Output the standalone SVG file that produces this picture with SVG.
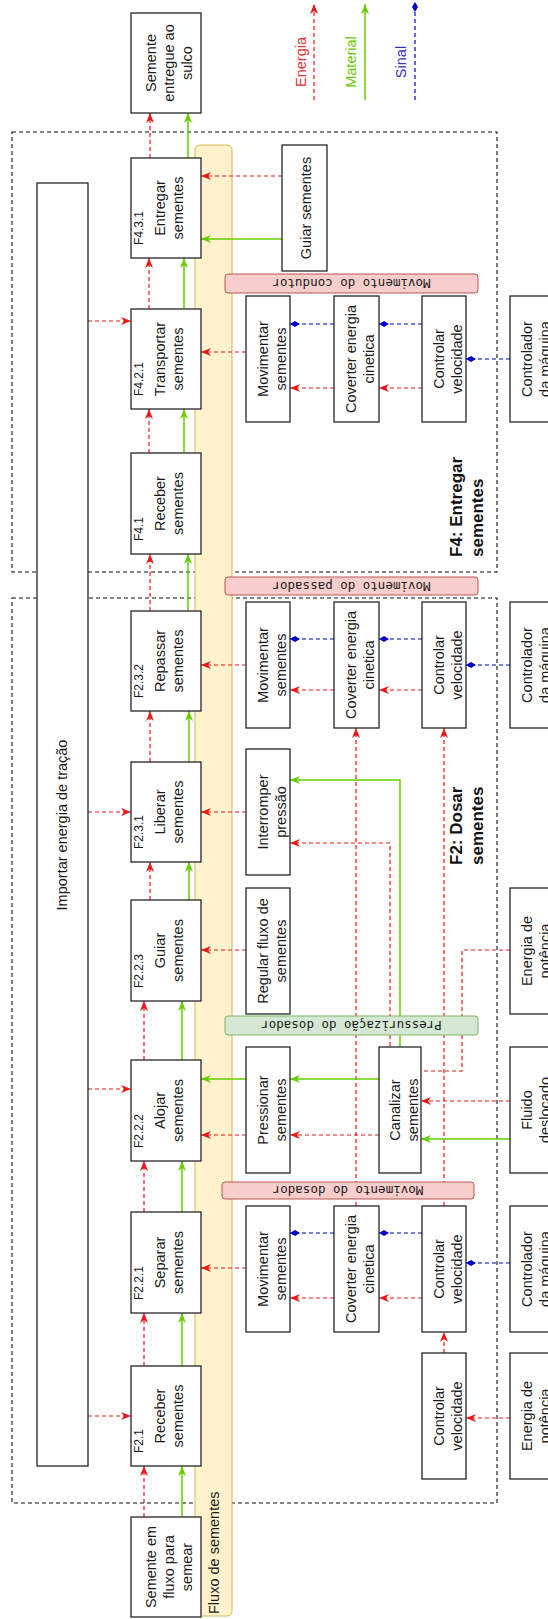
<svg xmlns="http://www.w3.org/2000/svg" width="548" height="1619" viewBox="0 0 548 1619">
<defs>
<style>
.box{fill:#fff;stroke:#262626;stroke-width:1.3}
.cont{fill:none;stroke:#111;stroke-width:1.1;stroke-dasharray:4 3}
.t{font-family:"Liberation Sans",Arial,sans-serif;font-size:14.5px;fill:#1a1a1a;text-anchor:middle}
.id{font-family:"Liberation Sans",Arial,sans-serif;font-size:12px;fill:#1a1a1a}
.title{font-family:"Liberation Sans",Arial,sans-serif;font-size:17px;font-weight:bold;fill:#111}
.lbl{font-family:"DejaVu Sans Mono",monospace;font-size:12.5px;fill:#1a1a1a;text-anchor:middle}
.e{fill:none;stroke:#e81818;stroke-width:1.2;stroke-dasharray:4 3;marker-end:url(#ar)}
.m{fill:none;stroke:#66cc00;stroke-width:1.5;marker-end:url(#ag)}
.s{fill:none;stroke:#0000cc;stroke-width:1.2;stroke-dasharray:4 3;marker-end:url(#ad)}
.pink{fill:#f8cecc;stroke:#b85450;stroke-width:1}
.grn{fill:#d5e8d4;stroke:#82b366;stroke-width:1}
</style>
<marker id="ar" viewBox="0 0 10 8" refX="10" refY="4" markerWidth="10" markerHeight="8" orient="auto" markerUnits="userSpaceOnUse"><path d="M0,0 L10,4 L0,8 L3,4 z" fill="#e81818"/></marker>
<marker id="ag" viewBox="0 0 10 8" refX="10" refY="4" markerWidth="10" markerHeight="8" orient="auto" markerUnits="userSpaceOnUse"><path d="M0,0 L10,4 L0,8 L3,4 z" fill="#66cc00"/></marker>
<marker id="ad" viewBox="0 0 10 6" refX="10" refY="3" markerWidth="10" markerHeight="6" orient="auto" markerUnits="userSpaceOnUse"><path d="M0,3 L5,0 L10,3 L5,6 z" fill="#0000cc"/></marker>
</defs>

<g id="containers">
<rect class="cont" x="12" y="598" width="485" height="905"/>
<rect class="cont" x="12" y="132" width="485" height="440"/>
</g>

<g id="fluxo-sementes">
<rect x="195" y="145" width="37" height="1471" rx="5" fill="#fff2cc" stroke="#d6b656" stroke-width="1"/>
<text class="t" style="text-anchor:start" transform="translate(219,1614) rotate(-90)">Fluxo de sementes</text>
</g>

<g id="connectors">
<!-- main column -->
<path class="e" d="M144,1517 V1466"/><path class="m" d="M182,1517 V1466"/>
<path class="e" d="M144,1366 V1313"/><path class="m" d="M182,1366 V1313"/>
<path class="e" d="M144,1212 V1161"/><path class="m" d="M182,1212 V1161"/>
<path class="e" d="M144,1060 V1001"/><path class="m" d="M182,1060 V1001"/>
<path class="e" d="M150,900 V862"/><path class="m" d="M189,900 V862"/>
<path class="e" d="M150,762 V711"/><path class="m" d="M189,762 V711"/>
<path class="e" d="M150,611 V554"/><path class="m" d="M188,611 V554"/>
<path class="e" d="M149,453 V409"/><path class="m" d="M184,453 V409"/>
<path class="e" d="M149,309 V258"/><path class="m" d="M184,309 V258"/>
<path class="e" d="M150,158 V113"/><path class="m" d="M188,158 V113"/>
<!-- bar to main -->
<path class="e" d="M88,1416 H131"/>
<path class="e" d="M88,1089 H131"/>
<path class="e" d="M88,812 H131"/>
<path class="e" d="M88,321 H131"/>
<!-- bottom group -->
<path class="e" d="M510,1418 H466"/>
<path class="e" d="M444,1353 V1332"/>
<path class="s" d="M510,1263 H466"/>
<path class="s" d="M422,1233 H379"/><path class="s" d="M334,1233 H290"/>
<path class="e" d="M422,1298 H379"/><path class="e" d="M334,1298 H290"/>
<path class="e" d="M246,1268 H201"/>
<path class="e" d="M356,1206 V728"/>
<path class="e" d="M444,1206 V728"/>
<!-- middle group -->
<path class="e" d="M510,1101 H421"/><path class="m" d="M510,1139 H421"/>
<path class="m" d="M379,1079 H290"/><path class="e" d="M379,1135 H290"/>
<path class="m" d="M246,1079 H201"/><path class="e" d="M246,1135 H201"/>
<path class="e" d="M510,950 H462 V1071 H390 V843 H290"/>
<path class="m" d="M400,1047 V780 H290"/>
<path class="e" d="M246,950 H201"/>
<path class="e" d="M246,812 H201"/>
<!-- repassar group -->
<path class="s" d="M510,665 H466"/>
<path class="s" d="M422,639 H379"/><path class="s" d="M334,639 H290"/>
<path class="e" d="M422,690 H379"/><path class="e" d="M334,690 H290"/>
<path class="e" d="M246,665 H201"/>
<!-- F4 group -->
<path class="s" d="M510,359 H466"/>
<path class="s" d="M422,324 H379"/><path class="s" d="M334,324 H290"/>
<path class="e" d="M422,388 H379"/><path class="e" d="M334,388 H290"/>
<path class="e" d="M246,352 H201"/>
<path class="e" d="M282,176 H201"/><path class="m" d="M282,239 H201"/>
</g>

<g id="importar-energia">
<rect class="box" x="37" y="183" width="51" height="1283"/>
<text class="t" transform="translate(67,825) rotate(-90)">Importar energia de tração</text>
</g>

<g id="semente-sulco">
<rect class="box" x="131" y="13" width="70" height="100"/>
<text class="t" transform="translate(156,63) rotate(-90)"><tspan x="0" y="0">Semente</tspan><tspan x="0" y="18">entregue ao</tspan><tspan x="0" y="36">sulco</tspan></text>
</g>
<g id="f431">
<rect class="box" x="131" y="158" width="70" height="100"/>
<text class="id" transform="translate(143,245) rotate(-90)">F4.3.1</text>
<text class="t" transform="translate(165,208) rotate(-90)"><tspan x="0" y="0">Entregar</tspan><tspan x="0" y="18">sementes</tspan></text>
</g>
<g id="f421">
<rect class="box" x="131" y="309" width="70" height="100"/>
<text class="id" transform="translate(143,396) rotate(-90)">F4.2.1</text>
<text class="t" transform="translate(165,359) rotate(-90)"><tspan x="0" y="0">Transportar</tspan><tspan x="0" y="18">sementes</tspan></text>
</g>
<g id="f41">
<rect class="box" x="131" y="453" width="70" height="101"/>
<text class="id" transform="translate(143,541) rotate(-90)">F4.1</text>
<text class="t" transform="translate(165,503.5) rotate(-90)"><tspan x="0" y="0">Receber</tspan><tspan x="0" y="18">sementes</tspan></text>
</g>
<g id="f232">
<rect class="box" x="131" y="611" width="70" height="100"/>
<text class="id" transform="translate(143,698) rotate(-90)">F2.3.2</text>
<text class="t" transform="translate(165,661) rotate(-90)"><tspan x="0" y="0">Repassar</tspan><tspan x="0" y="18">sementes</tspan></text>
</g>
<g id="f231">
<rect class="box" x="131" y="762" width="70" height="100"/>
<text class="id" transform="translate(143,849) rotate(-90)">F2.3.1</text>
<text class="t" transform="translate(165,812) rotate(-90)"><tspan x="0" y="0">Liberar</tspan><tspan x="0" y="18">sementes</tspan></text>
</g>
<g id="f223">
<rect class="box" x="131" y="900" width="70" height="101"/>
<text class="id" transform="translate(143,988) rotate(-90)">F2.2.3</text>
<text class="t" transform="translate(165,950.5) rotate(-90)"><tspan x="0" y="0">Guiar</tspan><tspan x="0" y="18">sementes</tspan></text>
</g>
<g id="f222">
<rect class="box" x="131" y="1060" width="70" height="101"/>
<text class="id" transform="translate(143,1148) rotate(-90)">F2.2.2</text>
<text class="t" transform="translate(165,1110.5) rotate(-90)"><tspan x="0" y="0">Alojar</tspan><tspan x="0" y="18">sementes</tspan></text>
</g>
<g id="f221">
<rect class="box" x="131" y="1212" width="70" height="101"/>
<text class="id" transform="translate(143,1300) rotate(-90)">F2.2.1</text>
<text class="t" transform="translate(165,1262.5) rotate(-90)"><tspan x="0" y="0">Separar</tspan><tspan x="0" y="18">sementes</tspan></text>
</g>
<g id="f21">
<rect class="box" x="131" y="1366" width="70" height="100"/>
<text class="id" transform="translate(143,1453) rotate(-90)">F2.1</text>
<text class="t" transform="translate(165,1416) rotate(-90)"><tspan x="0" y="0">Receber</tspan><tspan x="0" y="18">sementes</tspan></text>
</g>
<g id="semente-fluxo">
<rect class="box" x="131" y="1517" width="70" height="100"/>
<text class="t" transform="translate(156,1567) rotate(-90)"><tspan x="0" y="0">Semente em</tspan><tspan x="0" y="18">fluxo para</tspan><tspan x="0" y="36">semear</tspan></text>
</g>

<!-- F4 side boxes -->
<g id="guiar-sementes-f4">
<rect class="box" x="282" y="145" width="45" height="126"/>
<text class="t" transform="translate(311,208) rotate(-90)">Guiar sementes</text>
</g>
<g id="movimentar-f4">
<rect class="box" x="246" y="296" width="44" height="126"/>
<text class="t" transform="translate(267.5,359) rotate(-90)"><tspan x="0" y="0">Movimentar</tspan><tspan x="0" y="18">sementes</tspan></text>
</g>
<g id="coverter-f4">
<rect class="box" x="334" y="296" width="45" height="126"/>
<text class="t" transform="translate(355.5,359) rotate(-90)"><tspan x="0" y="0">Coverter energia</tspan><tspan x="0" y="18">cinetica</tspan></text>
</g>
<g id="controlar-f4">
<rect class="box" x="422" y="296" width="44" height="126"/>
<text class="t" transform="translate(443.5,359) rotate(-90)"><tspan x="0" y="0">Controlar</tspan><tspan x="0" y="18">velocidade</tspan></text>
</g>
<g id="controlador-f4">
<rect class="box" x="510" y="296" width="44" height="126"/>
<text class="t" transform="translate(531.5,359) rotate(-90)"><tspan x="0" y="0">Controlador</tspan><tspan x="0" y="18">da máquina</tspan></text>
</g>

<!-- Repassar side boxes -->
<g id="movimentar-rep">
<rect class="box" x="246" y="602" width="44" height="126"/>
<text class="t" transform="translate(267.5,665) rotate(-90)"><tspan x="0" y="0">Movimentar</tspan><tspan x="0" y="18">sementes</tspan></text>
</g>
<g id="coverter-rep">
<rect class="box" x="334" y="602" width="45" height="126"/>
<text class="t" transform="translate(355.5,665) rotate(-90)"><tspan x="0" y="0">Coverter energia</tspan><tspan x="0" y="18">cinetica</tspan></text>
</g>
<g id="controlar-rep">
<rect class="box" x="422" y="602" width="44" height="126"/>
<text class="t" transform="translate(443.5,665) rotate(-90)"><tspan x="0" y="0">Controlar</tspan><tspan x="0" y="18">velocidade</tspan></text>
</g>
<g id="controlador-rep">
<rect class="box" x="510" y="602" width="44" height="126"/>
<text class="t" transform="translate(531.5,665) rotate(-90)"><tspan x="0" y="0">Controlador</tspan><tspan x="0" y="18">da máquina</tspan></text>
</g>

<!-- middle side boxes -->
<g id="interromper">
<rect class="box" x="246" y="749" width="44" height="126"/>
<text class="t" transform="translate(267.5,812) rotate(-90)"><tspan x="0" y="0">Interromper</tspan><tspan x="0" y="18">pressão</tspan></text>
</g>
<g id="regular">
<rect class="box" x="246" y="888" width="44" height="126"/>
<text class="t" transform="translate(267.5,951) rotate(-90)"><tspan x="0" y="0">Regular fluxo de</tspan><tspan x="0" y="18">sementes</tspan></text>
</g>
<g id="energia-mid">
<rect class="box" x="510" y="888" width="44" height="126"/>
<text class="t" transform="translate(531.5,951) rotate(-90)"><tspan x="0" y="0">Energia de</tspan><tspan x="0" y="18">potência</tspan></text>
</g>
<g id="pressionar">
<rect class="box" x="246" y="1047" width="44" height="126"/>
<text class="t" transform="translate(267.5,1110) rotate(-90)"><tspan x="0" y="0">Pressionar</tspan><tspan x="0" y="18">sementes</tspan></text>
</g>
<g id="canalizar">
<rect class="box" x="379" y="1047" width="42" height="126"/>
<text class="t" transform="translate(399.5,1110) rotate(-90)"><tspan x="0" y="0">Canalizar</tspan><tspan x="0" y="18">sementes</tspan></text>
</g>
<g id="fluido">
<rect class="box" x="510" y="1047" width="44" height="126"/>
<text class="t" transform="translate(531.5,1110) rotate(-90)"><tspan x="0" y="0">Fluido</tspan><tspan x="0" y="18">deslocado</tspan></text>
</g>

<!-- bottom side boxes -->
<g id="movimentar-dos">
<rect class="box" x="246" y="1206" width="44" height="126"/>
<text class="t" transform="translate(267.5,1269) rotate(-90)"><tspan x="0" y="0">Movimentar</tspan><tspan x="0" y="18">sementes</tspan></text>
</g>
<g id="coverter-dos">
<rect class="box" x="334" y="1206" width="45" height="126"/>
<text class="t" transform="translate(355.5,1269) rotate(-90)"><tspan x="0" y="0">Coverter energia</tspan><tspan x="0" y="18">cinetica</tspan></text>
</g>
<g id="controlar-dos">
<rect class="box" x="422" y="1206" width="44" height="126"/>
<text class="t" transform="translate(443.5,1269) rotate(-90)"><tspan x="0" y="0">Controlar</tspan><tspan x="0" y="18">velocidade</tspan></text>
</g>
<g id="controlador-dos">
<rect class="box" x="510" y="1206" width="44" height="126"/>
<text class="t" transform="translate(531.5,1269) rotate(-90)"><tspan x="0" y="0">Controlador</tspan><tspan x="0" y="18">da máquina</tspan></text>
</g>
<g id="controlar-low">
<rect class="box" x="422" y="1353" width="44" height="126"/>
<text class="t" transform="translate(443.5,1416) rotate(-90)"><tspan x="0" y="0">Controlar</tspan><tspan x="0" y="18">velocidade</tspan></text>
</g>
<g id="energia-low">
<rect class="box" x="510" y="1353" width="44" height="126"/>
<text class="t" transform="translate(531.5,1416) rotate(-90)"><tspan x="0" y="0">Energia de</tspan><tspan x="0" y="18">potência</tspan></text>
</g>

<!-- labels -->
<g id="lbl-condutor">
<rect class="pink" x="225" y="274" width="253" height="19" rx="3"/>
<text class="lbl" transform="translate(351.5,283.5) rotate(180)" dy="0.35em">Movimento do condutor</text>
</g>
<g id="lbl-passador">
<rect class="pink" x="225" y="577" width="253" height="18" rx="3"/>
<text class="lbl" transform="translate(351.5,586) rotate(180)" dy="0.35em">Movimento do passador</text>
</g>
<g id="lbl-pressurizacao">
<rect class="grn" x="225" y="1016" width="253" height="19" rx="3"/>
<text class="lbl" transform="translate(351.5,1025.5) rotate(180)" dy="0.35em">Pressurização do dosador</text>
</g>
<g id="lbl-dosador">
<rect class="pink" x="222" y="1182" width="252" height="17" rx="3"/>
<text class="lbl" transform="translate(348,1190.5) rotate(180)" dy="0.35em">Movimento do dosador</text>
</g>

<g id="titles">
<text class="title" transform="translate(462,557) rotate(-90)"><tspan x="0" y="0">F4: Entregar</tspan><tspan x="0" y="21">sementes</tspan></text>
<text class="title" transform="translate(462,865) rotate(-90)"><tspan x="0" y="0">F2: Dosar</tspan><tspan x="0" y="21">sementes</tspan></text>
</g>

<g id="legend">
<path class="e" d="M314,100 V4"/>
<path class="m" d="M365,100 V4"/>
<path class="s" d="M415,100 V2"/>
<text class="t" fill="#dd3333" style="fill:#dd3333" transform="translate(306,62) rotate(-90)">Energia</text>
<text class="t" style="fill:#66cc00" transform="translate(356,62) rotate(-90)">Material</text>
<text class="t" style="fill:#3333bb" transform="translate(406,62) rotate(-90)">Sinal</text>
</g>
</svg>
